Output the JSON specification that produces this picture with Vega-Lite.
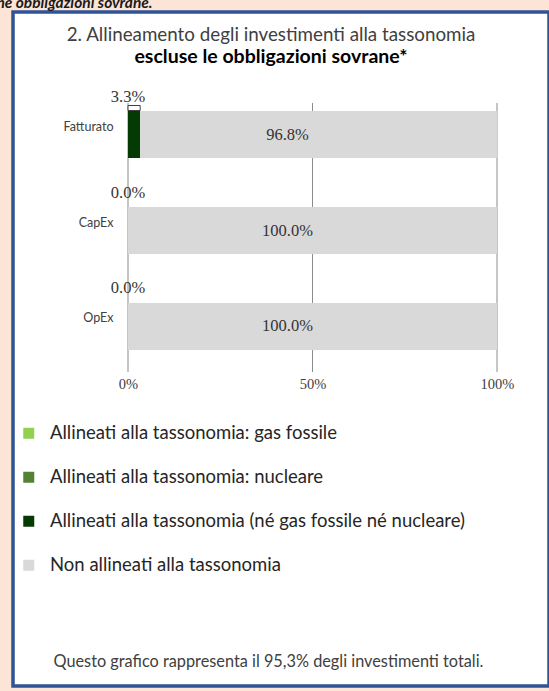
{
  "$schema": "https://vega.github.io/schema/vega-lite/v6.json",
  "width": 536,
  "height": 674,
  "autosize": {"type": "none"},
  "padding": {"left": 13, "top": 12, "right": 0, "bottom": 5},
  "background": "#fce4d6",
  "config": {
    "view": {"fill": "white", "stroke": "#2f5496", "strokeWidth": 3.5},
    "font": "Lato"
  },
  "title": {
    "text": "2. Allineamento degli investimenti alla tassonomia",
    "subtitle": "escluse le obbligazioni sovrane*",
    "anchor": "middle",
    "frame": "group",
    "offset": -71,
    "dx": -10,
    "font": "Lato",
    "fontSize": 18.8,
    "fontWeight": 400,
    "color": "#404040",
    "subtitleFont": "Lato",
    "subtitleFontSize": 19.5,
    "subtitleFontWeight": 700,
    "subtitleColor": "#000000",
    "subtitlePadding": 3
  },
  "datasets": {
    "grid": [{"value": 0}, {"value": 50}, {"value": 100}],
    "main": [
      {"cat": "Fatturato", "serie": "Allineati alla tassonomia (né gas fossile né nucleare)", "value": 3.3, "label": "3.3%"},
      {"cat": "Fatturato", "serie": "Non allineati alla tassonomia", "value": 96.8, "label": "96.8%"},
      {"cat": "CapEx", "serie": "Allineati alla tassonomia (né gas fossile né nucleare)", "value": 0, "label": "0.0%"},
      {"cat": "CapEx", "serie": "Non allineati alla tassonomia", "value": 100, "label": "100.0%"},
      {"cat": "OpEx", "serie": "Allineati alla tassonomia (né gas fossile né nucleare)", "value": 0, "label": "0.0%"},
      {"cat": "OpEx", "serie": "Non allineati alla tassonomia", "value": 100, "label": "100.0%"}
    ]
  },
  "layer": [
    {
      "data": {"name": "grid"},
      "mark": {"type": "rule", "color": "#8c8c8c", "strokeWidth": 1},
      "encoding": {
        "x": {
          "field": "value",
          "type": "quantitative",
          "scale": {"domain": [0, 100], "range": [115, 484]},
          "axis": {
            "values": [0, 50, 100],
            "labelExpr": "datum.value + '%'",
            "offset": -309,
            "domain": false,
            "ticks": false,
            "grid": false,
            "labelFlush": false,
            "labelPadding": 0,
            "labelFont": "Liberation Serif",
            "labelFontSize": 14.5,
            "labelColor": "#404040",
            "labelBaseline": "top",
            "title": "Questo grafico rappresenta il 95,3% degli investimenti totali.",
            "titleFont": "Lato",
            "titleFontSize": 16.3,
            "titleFontWeight": 400,
            "titleColor": "#404040",
            "titleX": 255,
            "titleY": 284,
            "titleAlign": "center",
            "titleBaseline": "middle"
          }
        },
        "y": {"datum": 0, "type": "quantitative", "scale": {"domain": [0, 1], "range": [360, 91]}, "axis": null},
        "y2": {"datum": 1}
      }
    },
    {
      "data": {"name": "main"},
      "layer": [
        {
          "mark": {"type": "bar"},
          "encoding": {
            "y": {
              "field": "cat",
              "type": "nominal",
              "sort": ["Fatturato", "CapEx", "OpEx"],
              "scale": {"domain": ["Fatturato", "CapEx", "OpEx"], "range": [51, 386], "paddingInner": 0.51, "paddingOuter": 0.5},
              "axis": {
                "title": "ne obbligazioni sovrane.",
                "offset": -100,
                "domain": false,
                "ticks": false,
                "labelPadding": 0,
                "labelFont": "Lato",
                "labelFontSize": 12.5,
                "labelColor": "#404040",
                "labelOffset": -8,
                "titleAngle": 0,
                "titleX": 39,
                "titleY": -5,
                "titleAlign": "right",
                "titleBaseline": "alphabetic",
                "titleFont": "Lato",
                "titleFontSize": 15.5,
                "titleFontStyle": "italic",
                "titleFontWeight": 700,
                "titleColor": "#1a1a1a"
              }
            },
            "x": {"field": "value", "type": "quantitative", "stack": "zero"},
            "color": {
              "field": "serie",
              "type": "nominal",
              "scale": {
                "domain": [
                  "Allineati alla tassonomia: gas fossile",
                  "Allineati alla tassonomia: nucleare",
                  "Allineati alla tassonomia (né gas fossile né nucleare)",
                  "Non allineati alla tassonomia"
                ],
                "range": ["#92d050", "#548235", "#043b05", "#d9d9d9"]
              },
              "legend": {
                "title": null,
                "orient": "none",
                "legendX": 6.5,
                "legendY": 412,
                "direction": "vertical",
                "symbolType": "square",
                "symbolSize": 121,
                "symbolStrokeWidth": 0,
                "labelFont": "Lato",
                "labelFontSize": 18.5,
                "labelColor": "#262626",
                "labelOffset": 12,
                "rowPadding": 25,
                "padding": 0,
                "labelLimit": 0,
                "encode": {
                  "symbols": {
                    "update": {
                      "fill": [
                        {"test": "datum.value === 'Allineati alla tassonomia (né gas fossile né nucleare)'", "value": "#375623"},
                        {"scale": "color", "field": "value"}
                      ],
                      "opacity": {"value": 1}
                    }
                  }
                }
              }
            }
          }
        },
        {
          "transform": [{"filter": "datum.value > 0 && datum.serie === 'Allineati alla tassonomia (né gas fossile né nucleare)'"}],
          "mark": {"type": "bar", "height": 5, "yOffset": -26.5, "fill": "white", "stroke": "#404040", "strokeWidth": 1},
          "encoding": {
            "y": {"field": "cat", "type": "nominal"},
            "x": {"field": "value", "type": "quantitative"}
          }
        },
        {
          "transform": [{"filter": "datum.serie === 'Allineati alla tassonomia (né gas fossile né nucleare)'"}],
          "mark": {"type": "text", "font": "Liberation Serif", "fontSize": 16.5, "color": "#333333", "yOffset": -38, "baseline": "middle"},
          "encoding": {
            "y": {"field": "cat", "type": "nominal"},
            "x": {"datum": 0, "type": "quantitative"},
            "text": {"field": "label"}
          }
        },
        {
          "transform": [{"filter": "datum.serie === 'Non allineati alla tassonomia'"}],
          "mark": {"type": "text", "font": "Liberation Serif", "fontSize": 16.5, "color": "#333333", "dx": -25, "baseline": "middle"},
          "encoding": {
            "y": {"field": "cat", "type": "nominal"},
            "x": {"datum": 50, "type": "quantitative"},
            "text": {"field": "label"}
          }
        }
      ]
    }
  ],
  "resolve": {"scale": {"y": "independent"}}
}
